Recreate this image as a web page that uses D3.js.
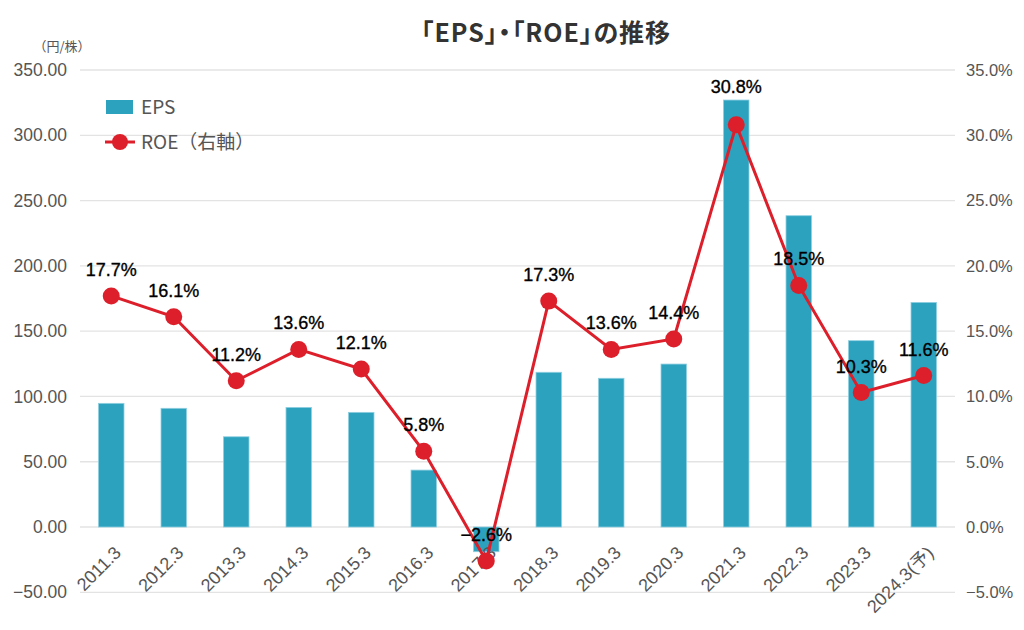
<!DOCTYPE html>
<html><head><meta charset="utf-8">
<script src="https://cdn.jsdelivr.net/npm/d3@7"></script>
<style>body{margin:0;background:#fff;}svg{display:block;}.palt{font-feature-settings:"palt";}</style>
</head><body><svg id="c" width="1024" height="630"></svg>
<script>
const categories = ["2011.3","2012.3","2013.3","2014.3","2015.3","2016.3","2017.3","2018.3","2019.3","2020.3","2021.3","2022.3","2023.3","2024.3(予)"];
const epsValues = [94.7, 90.9, 69.1, 91.6, 87.8, 43.6, -18.9, 118.5, 113.9, 124.8, 327.0, 238.4, 142.7, 172.0];
const roeValues = [17.7, 16.1, 11.2, 13.6, 12.1, 5.8, -2.6, 17.3, 13.6, 14.4, 30.8, 18.5, 10.3, 11.6];
const leftTicks = [-50, 0, 50, 100, 150, 200, 250, 300, 350];
const rightTicks = [-5, 0, 5, 10, 15, 20, 25, 30, 35];

const svg = d3.select("#c");
const jfont = "'Noto Sans CJK JP','Noto Sans',sans-serif";
const nfont = "'Liberation Sans',Arial,'Noto Sans CJK JP',sans-serif";
const x0 = 80, x1 = 955, yTop = 70, yBot = 592.3;
const x = d3.scaleBand().domain(categories).range([x0, x1]);
const yL = d3.scaleLinear().domain([-50, 350]).range([yBot, yTop]);
const yR = d3.scaleLinear().domain([-5, 35]).range([yBot, yTop]);
const barColor = "#2ca2bf", red = "#dc1f2a";

// grid
svg.append("g").selectAll("line").data(leftTicks).join("line")
  .attr("x1", x0).attr("x2", x1).attr("y1", d => yL(d)).attr("y2", d => yL(d))
  .attr("stroke", "#e3e3e3").attr("stroke-width", 1.3);

// left axis
const la = svg.append("g").attr("transform", `translate(${x0},0)`)
  .call(d3.axisLeft(yL).tickValues(leftTicks).tickFormat(d => d3.format(".2f")(d).replace("-", "−")).tickSize(0).tickPadding(13));
la.select(".domain").remove();
la.selectAll("text").attr("font-family", nfont).attr("font-size", 17.5).attr("fill", "#555");

// right axis
const ra = svg.append("g").attr("transform", `translate(${x1},0)`)
  .call(d3.axisRight(yR).tickValues(rightTicks).tickFormat(d => d3.format(".1f")(d).replace("-", "−") + "%").tickSize(0).tickPadding(11));
ra.select(".domain").remove();
ra.selectAll("text").attr("font-family", nfont).attr("font-size", 16.5).attr("fill", "#555");

// unit label
svg.append("text").attr("x", 62).attr("y", 51).attr("text-anchor", "middle")
  .attr("font-family", jfont).attr("font-size", 13).attr("fill", "#555").text("（円/株）");

// title
svg.append("text").attr("class", "palt").attr("x", 546).attr("y", 42).attr("text-anchor", "middle")
  .attr("font-family", jfont).attr("font-size", 25).attr("font-weight", "bold").attr("fill", "#333")
  .attr("letter-spacing", 1)
  .text("「EPS」・「ROE」の推移");

// bars
const bw = 25.5;
svg.append("g").selectAll("rect").data(epsValues).join("rect")
  .attr("x", (d, i) => x(categories[i]) + x.bandwidth() / 2 - bw / 2)
  .attr("width", bw)
  .attr("y", d => Math.min(yL(d), yL(0)))
  .attr("height", d => Math.abs(yL(d) - yL(0)))
  .attr("fill", barColor).attr("stroke", "#8fcfe0").attr("stroke-width", 0.8);

// x labels
svg.append("g").selectAll("text").data(categories).join("text")
  .attr("transform", (d) => `translate(${x(d) + x.bandwidth() / 2 + 2},${545}) rotate(-45)`)
  .attr("text-anchor", "end").attr("dy", "0.7em")
  .attr("font-family", nfont).attr("font-size", 18).attr("fill", "#555")
  .text(d => d);

// ROE line
const cx = (d, i) => x(categories[i]) + x.bandwidth() / 2;
const line = d3.line().x((d, i) => cx(d, i)).y(d => yR(d));
svg.append("path").datum(roeValues).attr("d", line)
  .attr("fill", "none").attr("stroke", red).attr("stroke-width", 3);
svg.append("g").selectAll("circle").data(roeValues).join("circle")
  .attr("cx", cx).attr("cy", d => yR(d)).attr("r", 8.5).attr("fill", red);

// ROE labels
svg.append("g").selectAll("text").data(roeValues).join("text")
  .attr("x", cx).attr("y", (d, i) => yR(d) - (i === 10 ? 32 : 20))
  .attr("text-anchor", "middle")
  .attr("font-family", nfont).attr("font-size", 18).attr("fill", "#000")
  .attr("stroke", "#000").attr("stroke-width", 0.35)
  .text(d => d3.format(".1f")(d).replace("-", "−") + "%");

// legend
const lg = svg.append("g");
lg.append("rect").attr("x", 106).attr("y", 100).attr("width", 27).attr("height", 14).attr("fill", barColor);
lg.append("text").attr("x", 141).attr("y", 114).attr("font-family", jfont).attr("font-size", 19).attr("fill", "#555").text("EPS");
lg.append("line").attr("x1", 105).attr("x2", 135).attr("y1", 142).attr("y2", 142).attr("stroke", red).attr("stroke-width", 3);
lg.append("circle").attr("cx", 120).attr("cy", 142).attr("r", 8).attr("fill", red);
lg.append("text").attr("x", 141).attr("y", 149).attr("font-family", jfont).attr("font-size", 19).attr("fill", "#555").text("ROE（右軸）");
</script>
</body></html>
